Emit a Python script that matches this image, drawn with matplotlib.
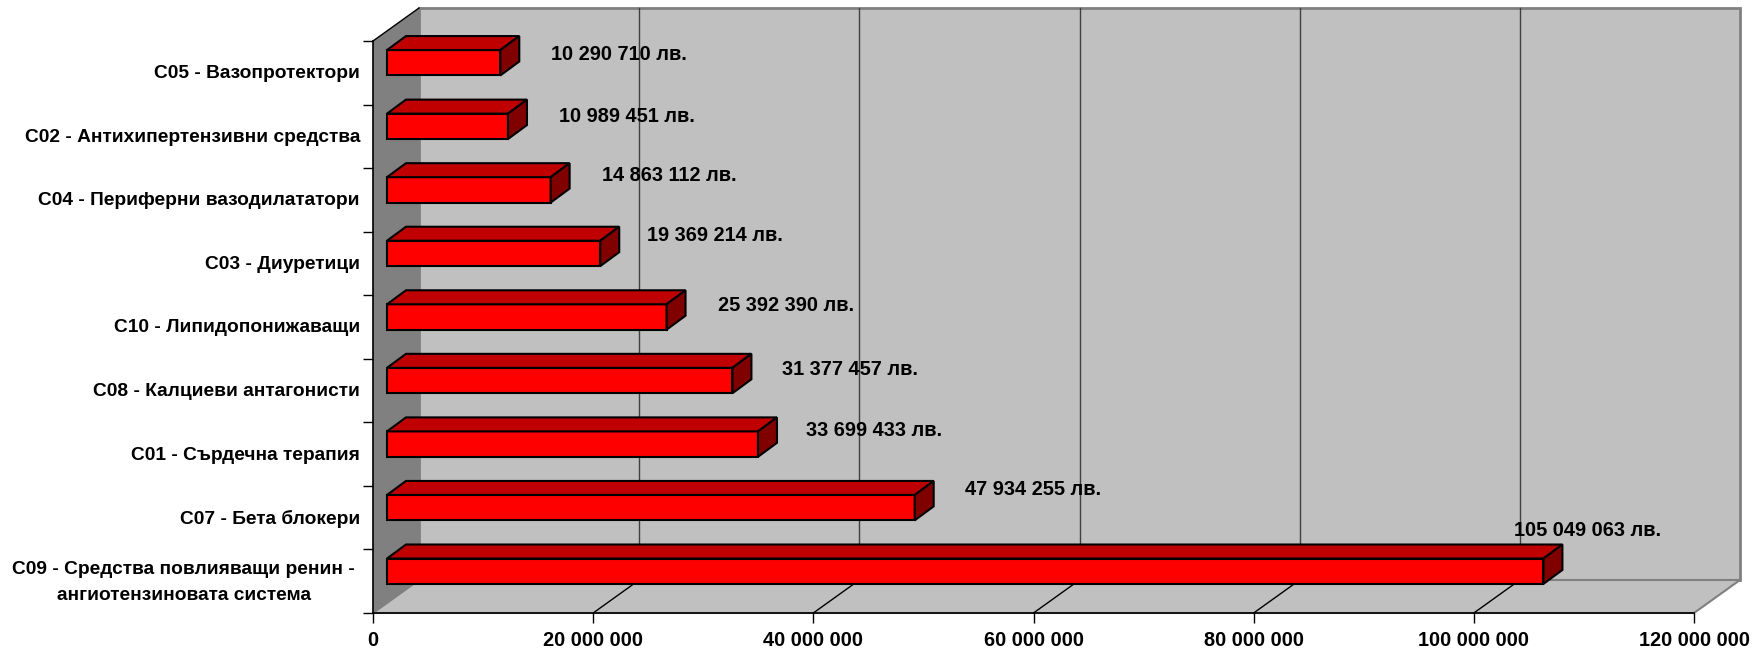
"""Horizontal bar chart drawn with a fake 3D box look, C group sales in leva."""

import matplotlib
matplotlib.use("Agg")
import matplotlib.pyplot as plt
from matplotlib.patches import Polygon
from matplotlib.transforms import ScaledTranslation

plt.rcParams['font.family'] = ['Liberation Sans', 'DejaVu Sans']

categories = [
    "C05 - Вазопротектори",
    "C02 - Антихипертензивни средства",
    "C04 - Периферни вазодилататори",
    "C03 - Диуретици",
    "C10 - Липидопонижаващи",
    "C08 - Калциеви антагонисти",
    "C01 - Сърдечна терапия",
    "C07 - Бета блокери",
    "C09 - Средства повлияващи ренин -\nангиотензиновата система",
]
values = [10290710, 10989451, 14863112, 19369214, 25392390,
          31377457, 33699433, 47934255, 105049063]
x_ticks = [0, 20000000, 40000000, 60000000, 80000000, 100000000, 120000000]

# labels were dragged by hand in the original, offsets are px from the bar end
label_dx = [51, 51, 51, 47, 51, 50, 48, 50, -29]
label_dy = [8, 10, 14, 18, 11, 11, 14, 18, 41]

FIG_W, FIG_H = 1764, 650
LEFT, RIGHT, TOP, BOTTOM = 373, 1694, 41, 613
WALL_DX, WALL_DY = 46, 33    # depth of the box in px
BAR_DX, BAR_DY = 19, 14      # depth of one bar in px
BAR_START = 14               # bars sit this far inside the box
BAR_LIFT = 10                # bars sit this far above the category centre
BAR_HEIGHT = 0.4


def thousands(v):
    return f"{v:,}".replace(",", " ")


fig = plt.figure(figsize=(FIG_W / 100, FIG_H / 100), dpi=100)
ax = fig.add_axes([LEFT / FIG_W, 1 - BOTTOM / FIG_H,
                   (RIGHT - LEFT) / FIG_W, (BOTTOM - TOP) / FIG_H])
n = len(categories)
ax.set_xlim(0, x_ticks[-1])
ax.set_ylim(n, 0)
ax.patch.set_visible(False)

# px to data units
px_x = x_ticks[-1] / (RIGHT - LEFT)
px_y = n / (BOTTOM - TOP)
wx, wy = WALL_DX * px_x, WALL_DY * px_y
xmax = x_ticks[-1]

wall_edge = "#808080"
ax.add_patch(Polygon([(wx, -wy), (xmax + wx, -wy), (xmax + wx, n - wy), (wx, n - wy)],
                     closed=True, fc="#C0C0C0", ec=wall_edge, lw=2, clip_on=False, zorder=1))
ax.add_patch(Polygon([(0, 0), (wx, -wy), (wx, n - wy), (0, n)],
                     closed=True, fc="#808080", ec="none", clip_on=False, zorder=1))
ax.add_patch(Polygon([(0, n), (xmax, n), (xmax + wx, n - wy), (wx, n - wy)],
                     closed=True, fc="#C0C0C0", ec=wall_edge, lw=1.5, clip_on=False, zorder=1))
ax.plot([0, wx], [0, -wy], color="black", lw=1, clip_on=False, zorder=2)

# gridlines: up the back wall and across the floor
for t in x_ticks[1:-1]:
    ax.plot([t + wx, t + wx], [-wy, n - wy], color="#404040", lw=1, clip_on=False, zorder=2)
    ax.plot([t, t + wx], [n, n - wy], color="black", lw=1, clip_on=False, zorder=2)

bx, by = BAR_DX * px_x, BAR_DY * px_y
start = BAR_START * px_x
ypos = [i + 0.5 - BAR_LIFT * px_y for i in range(n)]
ax.barh(ypos, values, left=start, height=BAR_HEIGHT, color="#FF0000",
        edgecolor="black", linewidth=1.5, zorder=3, clip_on=False)
for y, v in zip(ypos, values):
    top = y - BAR_HEIGHT / 2
    bot = y + BAR_HEIGHT / 2
    end = start + v
    ax.add_patch(Polygon([(start, top), (start + bx, top - by), (end + bx, top - by), (end, top)],
                         closed=True, fc="#C00000", ec="black", lw=1.5, clip_on=False, zorder=3))
    ax.add_patch(Polygon([(end, top), (end + bx, top - by), (end + bx, bot - by), (end, bot)],
                         closed=True, fc="#800000", ec="black", lw=1.5, clip_on=False, zorder=3))

for y, v, dx, dy in zip(ypos, values, label_dx, label_dy):
    ax.annotate(f"{thousands(v)} лв.", xy=(start + v, y), xytext=(dx, dy),
                textcoords="offset pixels", ha="left", va="center",
                fontsize=14.4, fontweight="bold", color="black", zorder=5)

for s in ["top", "right"]:
    ax.spines[s].set_visible(False)
for s in ["left", "bottom"]:
    ax.spines[s].set_linewidth(1.2)
    ax.spines[s].set_zorder(2.5)

ax.set_xticks(x_ticks)
ax.set_xticklabels([thousands(t) for t in x_ticks], fontsize=14.4, fontweight="bold")
ax.tick_params(axis="x", length=7.2, width=1, pad=6)

ax.set_yticks(range(n + 1))
ax.set_yticklabels([])
ax.tick_params(axis="y", length=7.2, width=1)
ax.set_yticks([i + 0.5 for i in range(n)], labels=categories, minor=True,
              fontsize=13.75, fontweight="bold", multialignment="center", linespacing=1.67)
ax.tick_params(axis="y", which="minor", length=0, pad=9.4)

# category labels sit a bit high, the two line one also further left
for lab in ax.get_yticklabels(minor=True):
    shift_x = -5 if "\n" in lab.get_text() else 0
    shift_y = 5 if "\n" in lab.get_text() else 1
    lab.set_transform(lab.get_transform()
                      + ScaledTranslation(shift_x / 100, shift_y / 100, fig.dpi_scale_trans))

fig.savefig("out.png", dpi=100)
